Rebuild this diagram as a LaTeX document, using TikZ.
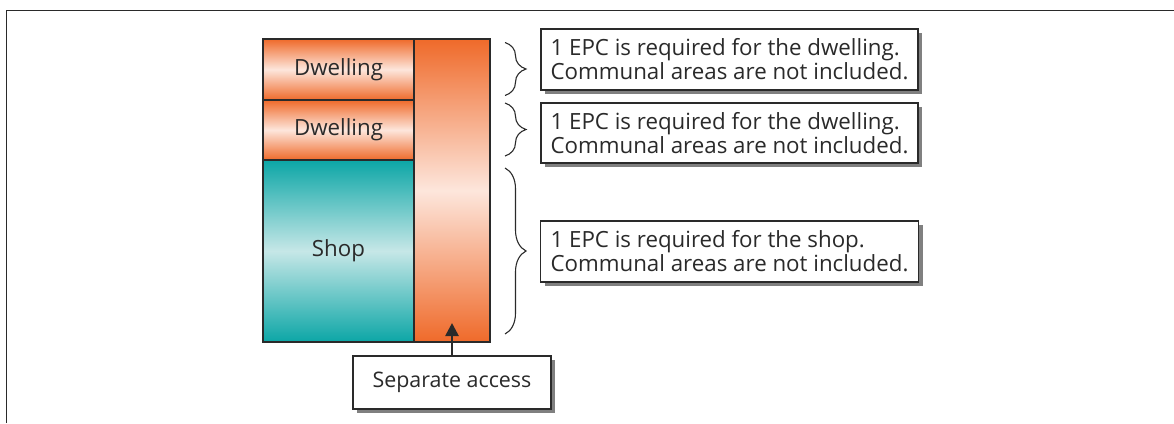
\documentclass[tikz,border=0pt]{standalone}
\usepackage{fontspec}
\setmainfont{Open Sans}
\usetikzlibrary{decorations.pathreplacing,shadows,arrows.meta}
\definecolor{orangeC}{HTML}{EF6A2A}
\definecolor{orangeL}{HTML}{FDE6DC}
\definecolor{tealC}{HTML}{0CA6A6}
\definecolor{tealL}{HTML}{C6E7E7}
\definecolor{lineC}{HTML}{2A2A2A}
\definecolor{shadowC}{HTML}{808080}
\tikzset{
  part/.style={draw=lineC, line width=1.2pt, inner sep=0pt, text=lineC,
    font=\fontsize{22.3}{24}\selectfont},
  dwell/.style={part, top color=orangeC, bottom color=orangeC, middle color=orangeL,
    minimum width=151pt},
  shopbox/.style={part, top color=tealC, bottom color=tealC, middle color=tealL,
    minimum width=151pt},
  stairbox/.style={part, top color=orangeC, bottom color=orangeC, middle color=orangeL,
    minimum width=76pt},
  note/.style={draw=lineC, line width=1.2pt, fill=white, text=lineC, align=left,
    inner sep=0pt, font=\fontsize{22.3}{24}\selectfont,
    drop shadow={shadow xshift=4pt, shadow yshift=-4pt, fill=shadowC, opacity=1}},
  bracebar/.style={draw=lineC, line width=1.1pt, decorate,
    decoration={brace, amplitude=21pt, aspect=0.5}},
}
\begin{document}
\begin{tikzpicture}[x=1pt,y=-1pt]
\useasboundingbox (0,0) rectangle (1174,423);
% frame
\draw[lineC, line width=1.6pt] (6.5,423) -- (6.5,10.5) -- (1174,10.5);
% building
\node[stairbox, minimum height=303pt] (stair) at (452,190.5) {};
\node[dwell, minimum height=61pt] (d1) at (338.5,69.5) {Dwelling};
\node[dwell, minimum height=60pt] (d2) at (338.5,130) {Dwelling};
\node[shopbox, minimum height=182pt] (shop) at (338.5,251) {Shop};
% braces
\coordinate (b1a) at (505,42.5);
\coordinate (b1b) at (505,95.5);
\coordinate (b2a) at (505,103);
\coordinate (b2b) at (505,156);
\coordinate (b3a) at (505,168);
\coordinate (b3b) at (505,334);
\draw[bracebar] (b1a) -- (b1b);
\draw[bracebar] (b2a) -- (b2b);
\draw[bracebar] (b3a) -- (b3b);
% notes
\node[note, minimum width=377pt, minimum height=61pt] (n1) at (729.5,59.5)
  {1 EPC is required for the dwelling.\\Communal areas are not included.};
\node[note, minimum width=377pt, minimum height=60pt] (n2) at (729.5,133)
  {1 EPC is required for the dwelling.\\Communal areas are not included.};
\node[note, minimum width=378pt, minimum height=61pt] (n3) at (729.5,251.5)
  {1 EPC is required for the shop.\\Communal areas are not included.};
% access
\node[note, minimum width=198pt, minimum height=53pt, font=\fontsize{21.4}{24}\selectfont] (acc) at (452,382.5) {Separate access};
\coordinate (tipA) at (452,323);
\draw[lineC, line width=2.6pt, -{Triangle[width=13pt,length=13pt]}] (acc.north) -- (tipA);
\end{tikzpicture}
\end{document}
